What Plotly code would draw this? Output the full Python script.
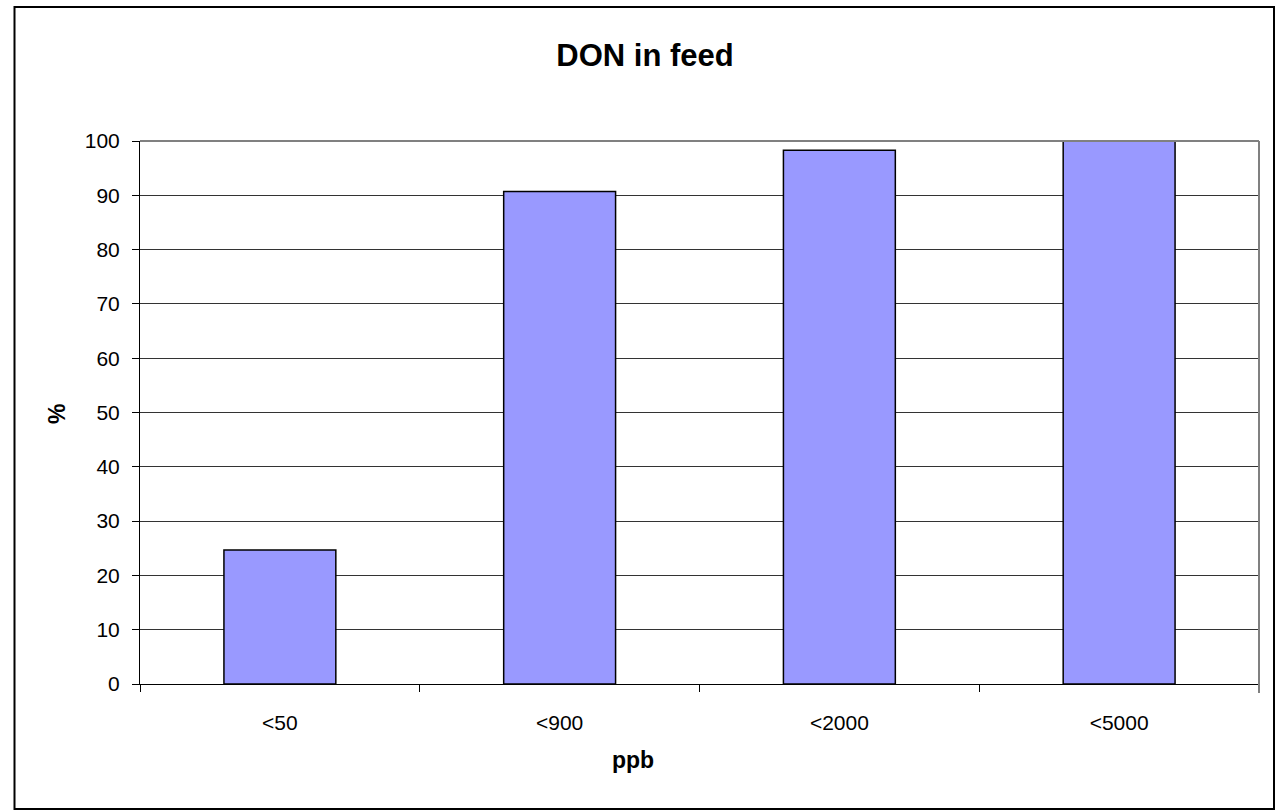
import plotly.graph_objects as go

categories = ["<50", "<900", "<2000", "<5000"]
values = [24.7, 90.7, 98.3, 100.0]
y_ticks = [0, 10, 20, 30, 40, 50, 60, 70, 80, 90, 100]

FONT = "Liberation Sans, Arial, sans-serif"

W, H = 1276, 810
L, R, T, B = 140, 17, 141, 126
pw, ph = W - L - R, H - T - B


def px(x):
    return (x - L) / pw


def py(y):
    return (H - B - y) / ph


fig = go.Figure()
fig.add_trace(go.Bar(
    x=categories, y=values,
    marker=dict(color="#9999FF", line=dict(color="#000000", width=1.5)),
    hoverinfo="x+y",
))

fig.update_layout(
    width=W, height=H,
    margin=dict(l=L, r=R, t=T, b=B),
    paper_bgcolor="white", plot_bgcolor="white",
    bargap=0.6,
    showlegend=False,
    font=dict(family=FONT, color="black", size=21),
    title=dict(text="<b>DON in feed</b>", x=645 / W, xref="container", xanchor="center",
               y=1 - 55 / H, yref="container", yanchor="middle",
               font=dict(family=FONT, size=31, color="black")),
    xaxis=dict(
        type="category", tickson="boundaries", ticks="outside", ticklen=7,
        tickcolor="black", tickwidth=1, showline=True, linecolor="black", linewidth=1,
        showgrid=False, zeroline=False, ticklabelstandoff=20,
        tickfont=dict(family=FONT, size=21, color="black"),
    ),
    yaxis=dict(
        range=[0, 100], tickvals=y_ticks, ticks="outside", ticklen=7,
        tickcolor="black", tickwidth=1, showline=True, linecolor="black", linewidth=1,
        showgrid=True, gridcolor="#333333", gridwidth=1, zeroline=False,
        ticklabelstandoff=8,
        tickfont=dict(family=FONT, size=21, color="black"),
    ),
    annotations=[
        dict(text="<b>ppb</b>", xref="paper", yref="paper", x=px(633), y=py(760),
             xanchor="center", yanchor="middle", showarrow=False,
             font=dict(family=FONT, size=23, color="black")),
        dict(text="<b>%</b>", xref="paper", yref="paper", x=px(57), y=py(414),
             xanchor="center", yanchor="middle", showarrow=False, textangle=-90,
             font=dict(family=FONT, size=23, color="black")),
    ],
    shapes=[
        dict(type="rect", xref="paper", yref="paper", x0=px(14.5), x1=px(1274),
             y0=py(809), y1=py(7), line=dict(color="black", width=2), layer="below"),
        dict(type="line", xref="paper", yref="paper", x0=0, x1=1, y0=1, y1=1,
             line=dict(color="#808080", width=2), layer="above"),
        dict(type="line", xref="paper", yref="paper", x0=1, x1=1, y0=py(693), y1=1,
             line=dict(color="#808080", width=2), layer="above"),
    ],
)

fig.write_html(
    "out.html",
    config={"displayModeBar": False},
    post_script="document.body.style.margin='0';document.body.style.overflow='hidden';",
)
